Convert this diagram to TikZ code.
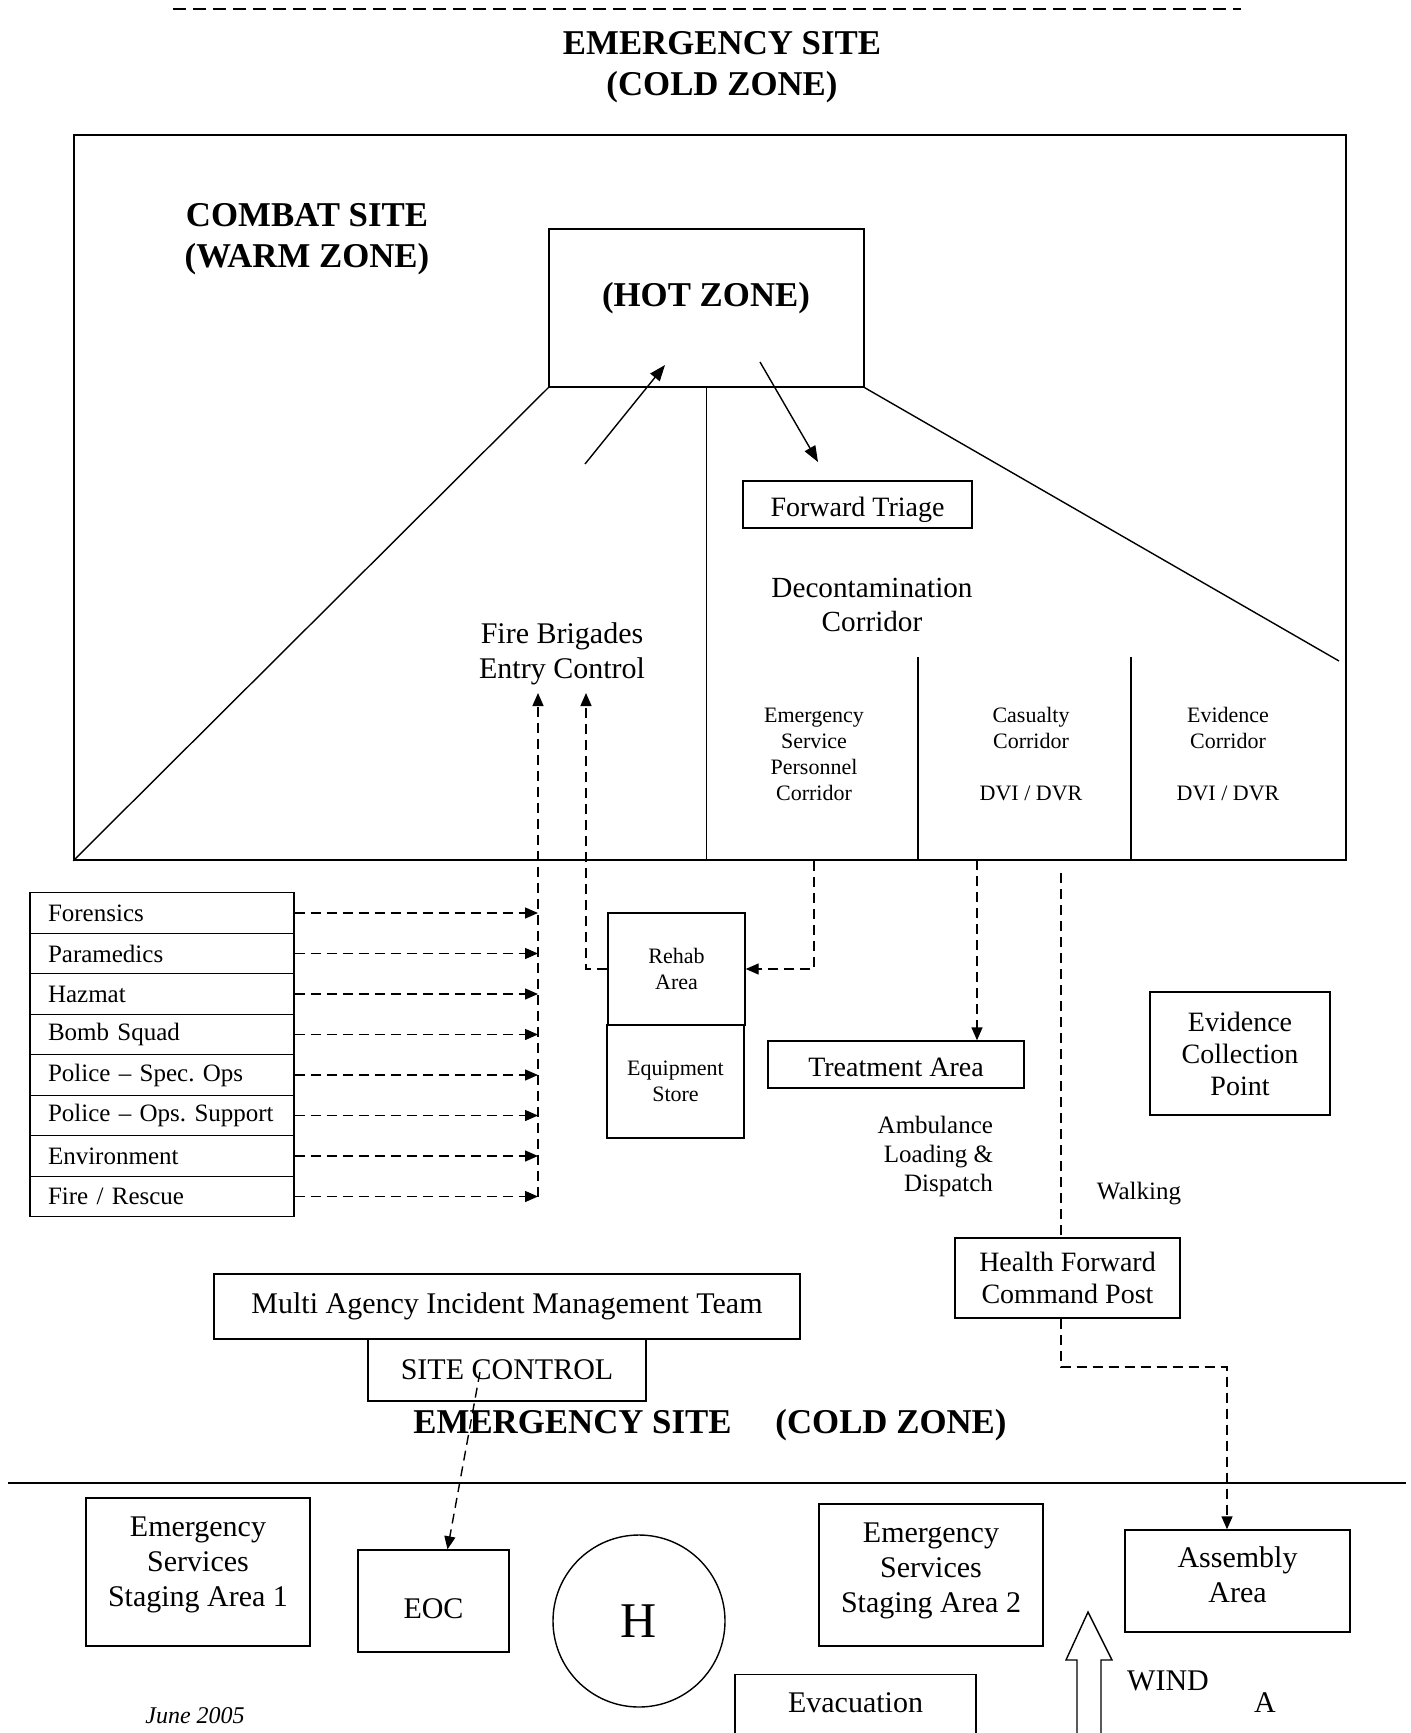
\documentclass[tikz,border=0pt]{standalone}
\usepackage{fontspec}
\setmainfont{Liberation Serif}
\usepackage{tikz}
\usetikzlibrary{arrows.meta,fit,calc,positioning}
\frenchspacing

\tikzset{
  areabox/.style={draw,line width=0.7pt,inner sep=0pt,align=center},
  agencybox/.style={draw,line width=0.7pt,inner xsep=9pt,inner ysep=0pt,text width=114pt,
    minimum height=20.25pt,align=left,font=\fontsize{12.5}{14}\selectfont},
  dashline/.style={line width=0.7pt,dash pattern=on 5pt off 3pt},
  dashflow/.style={dashline,-{Triangle[length=6.5pt,width=5.5pt]}},
  solidflow/.style={line width=0.7pt,-{Triangle[length=8pt,width=6pt]}},
  zonetitle/.style={font=\fontsize{17.4}{20.5}\selectfont\bfseries,align=center},
  biglabel/.style={font=\fontsize{15}{17.5}\selectfont,align=center},
  midlabel/.style={font=\fontsize{14}{16}\selectfont,align=center},
  smalllabel/.style={font=\fontsize{12.5}{14.5}\selectfont,align=center},
  tinylabel/.style={font=\fontsize{11}{13}\selectfont,align=center},
}

\begin{document}
\begin{tikzpicture}[x=0.5pt,y=-0.5pt]
	%\draw[color=gray,step=50, help lines,opacity=0.3] (0,0) grid (1411,1733); %help grid
	\useasboundingbox (0,0) rectangle (1411,1733);
	\draw[line width=0.8pt,dash pattern=on 6.5pt off 3.5pt] (173,9) -- (1241,9);
	\node[zonetitle] (sitetitle) at (722,67) {EMERGENCY SITE\\(COLD ZONE)};
	% warm zone and hot zone
	\node[areabox,line width=0.8pt,fit={(74,135) (1346,860)}] (warm) {};
	\node[zonetitle,text depth=0pt] (combat) at (307,235) {COMBAT SITE\\(WARM ZONE)};
	\node[areabox,fit={(549,229) (864,387)}] (hot) {};
	\node[zonetitle] (hotname) at (706,298) {(HOT ZONE)};
	\coordinate (rimright) at (1339,661);
	\draw[line width=0.7pt] (hot.south west) -- (warm.south west);
	\draw[line width=0.7pt] (hot.south) -- (hot.south |- warm.south);
	\draw[line width=0.7pt] (hot.south east) -- (rimright);
	\foreach \cx in {918,1131} \draw[line width=0.7pt] (\cx,657) -- (\cx,860);
	\coordinate (hinfoot) at (585,464);
	\coordinate (hintip) at (665,365);
	\coordinate (houtfoot) at (760,362);
	\coordinate (houttip) at (818,462);
	\draw[solidflow] (hinfoot) -- (hintip);
	\draw[solidflow] (houtfoot) -- (houttip);
	\node[areabox,midlabel,minimum width=114.5pt,minimum height=23.5pt,text height=15pt] (triage) at (857.5,504.5) {Forward Triage};
	\node[midlabel,font=\fontsize{14.6}{17}\selectfont] (decon) at (872,605) {Decontamination\\Corridor};
	\node[biglabel] (fbec) at (562,654) {Fire Brigades\\Entry Control};
	\node[tinylabel] (esp) at (814,754) {Emergency\\Service\\Personnel\\Corridor};
	\node[tinylabel] (cas) at (1031,754) {Casualty\\Corridor\\[13pt]DVI / DVR};
	\node[tinylabel] (evc) at (1228,754) {Evidence\\Corridor\\[13pt]DVI / DVR};
	% agencies into entry control
	\coordinate (fbleft) at (538,693);
	\coordinate (fbright) at (586,693);
	\foreach \agency [count=\i] in {Forensics,Paramedics,Hazmat,Bomb Squad,Police – Spec. Ops,
	  Police – Ops. Support,Environment,Fire / Rescue}{
		\node[agencybox] (ag\i) at (162,{913+40.5*(\i-1)}) {\agency};
		\draw[dashflow] (ag\i.east) -- (ag\i.east -| fbleft);
	}
	\draw[dashflow] (ag8.east -| fbleft) -- (fbleft);
	\node[areabox,tinylabel,minimum width=68.5pt,minimum height=56pt] (rehab) at (676.5,969) {Rehab\\Area};
	\node[areabox,tinylabel,minimum width=68.5pt,minimum height=56.5pt] (equip) at (675.5,1081.5) {Equipment\\Store};
	\draw[dashflow] (rehab.west) -| (fbright);
	\draw[dashflow] (esp.south |- warm.south) |- (rehab.east);
	% casualties
	\node[areabox,midlabel,minimum width=128pt,minimum height=23.5pt,text height=12.5pt] (treat) at (896,1064.5) {Treatment Area};
	\coordinate (casout) at (977,860);
	\draw[dashflow] (casout) -- (casout |- treat.north);
	\node[smalllabel,align=right,anchor=east] (amb) at (1000,1156) {Ambulance\\Loading \&\\Dispatch};
	\node[areabox,midlabel,minimum width=90pt,minimum height=61.5pt] (evcp) at (1240,1053.5) {Evidence\\Collection\\Point};
	\node[smalllabel] (walking) at (1139,1194) {Walking};
	\node[areabox,midlabel,minimum width=112.5pt,minimum height=40pt,text depth=0pt] (hfcp) at (1067.5,1278) {Health Forward\\Command Post};
	\coordinate (walktop) at (1061,873);
	\coordinate (walkbend) at (1227,1367);
	\draw[dashline] (walktop) -- (walktop |- hfcp.north);
	% control
	\node[areabox,biglabel,minimum width=293pt,minimum height=32.5pt] (miimt) at (507,1306.5) {Multi Agency Incident Management Team};
	\node[areabox,biglabel,minimum width=139pt,minimum height=31pt] (sitectl) at (507,1370) {SITE CONTROL};
	\node[zonetitle] (coldzone) at (710,1425) {EMERGENCY SITE\hspace{22pt}(COLD ZONE)};
	\draw[line width=1pt] (8,1483) -- (1406,1483);
	% cold zone
	\node[areabox,biglabel,minimum width=112pt,minimum height=74pt,text depth=10pt] (stage1) at (198,1572) {Emergency\\Services\\Staging Area 1};
	\node[areabox,biglabel,minimum width=75.5pt,minimum height=51pt,text height=17.5pt] (eoc) at (433.5,1601) {EOC};
	\node[draw,circle,line width=0.7pt,minimum size=86pt,inner sep=0pt,font=\fontsize{25}{25}\selectfont] (heli) at (639,1621) {H};
	\node[areabox,biglabel,minimum width=112pt,minimum height=71pt,text depth=7.7pt] (stage2) at (931,1575) {Emergency\\Services\\Staging Area 2};
	\node[areabox,biglabel,minimum width=112.5pt,minimum height=51pt,text depth=6.5pt] (assembly) at (1237.5,1581) {Assembly\\Area};
	\node[areabox,biglabel,anchor=north,minimum width=120.5pt,inner ysep=9pt,text depth=40pt] (evac) at (855.5,1674) {Evacuation};
	\coordinate (ctlout) at (480,1372);
	\draw[dashflow] (ctlout) -- ([xshift=7pt]eoc.north);
	\draw[dashflow] (walktop |- hfcp.south) |- (walkbend) -- (walkbend |- assembly.north);
	\draw[line width=0.7pt] (1077,1740) -- (1077,1660) -- (1066,1660) -- (1088,1612) -- (1112,1660) -- (1101,1660) -- (1101,1740);
	\node[biglabel] (wind) at (1168,1681) {WIND};
	\node[biglabel] (windA) at (1265,1703) {A};
	\node[font=\fontsize{12}{14}\selectfont\itshape] (date) at (195,1716) {June 2005};
\end{tikzpicture}
\end{document}
